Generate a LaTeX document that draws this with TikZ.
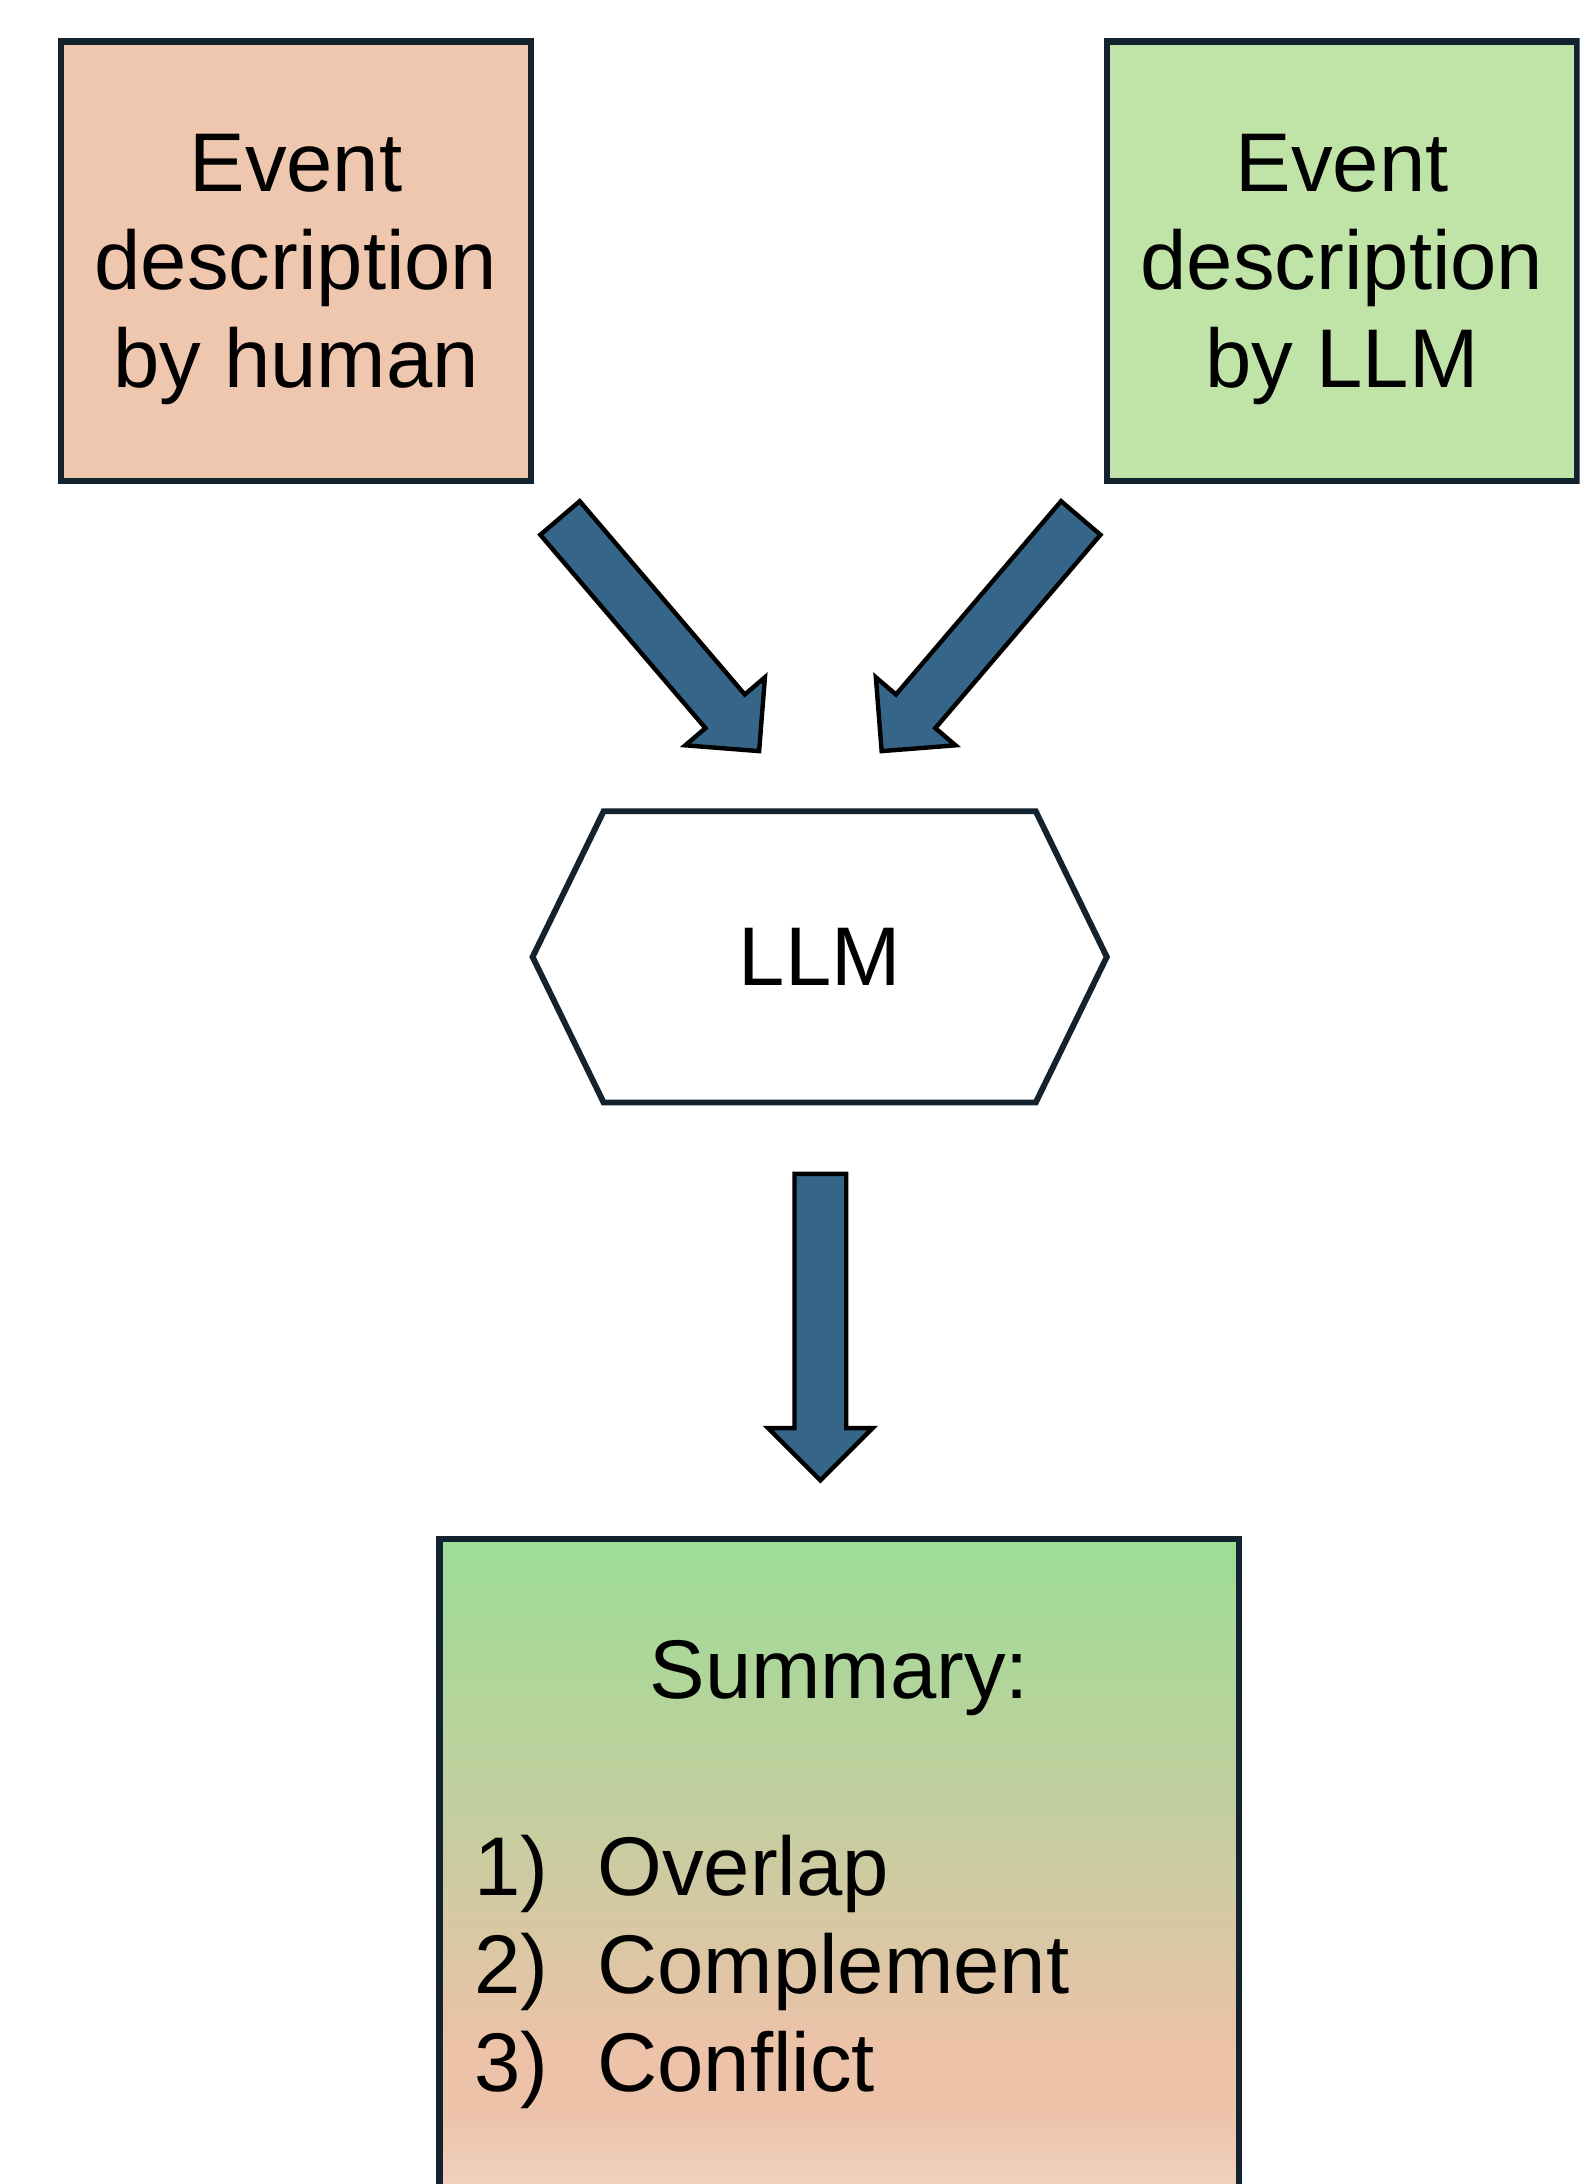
\documentclass[tikz,border=0pt]{standalone}
\usepackage{fontspec}
\setmainfont{Liberation Sans}
\usetikzlibrary{shapes.arrows,shapes.symbols}

\definecolor{peachbox}{HTML}{EFC6AE}
\definecolor{greenbox}{HTML}{C0E3A7}
\definecolor{boxline}{HTML}{13222F}
\definecolor{arrowblue}{HTML}{35668A}
\definecolor{sumgreen}{HTML}{9CDD96}
\definecolor{sumolive}{HTML}{C4CE9F}
\definecolor{sumpeach}{HTML}{ECC2A8}
\definecolor{sumpale}{HTML}{F0D2BE}

\pgfdeclareverticalshading{summaryshade}{100bp}{color(0bp)=(sumpale); color(25bp)=(sumpale); color(30bp)=(sumpale); color(36bp)=(sumpeach); color(40bp)=(sumpeach); color(56bp)=(sumolive); color(75bp)=(sumgreen); color(100bp)=(sumgreen)}

\begin{document}
\begin{tikzpicture}[x=0.01cm, y=-0.01cm, font=\fontsize{17}{20}\selectfont,
	descbox/.style={draw=boxline, line width=1.3pt, minimum width=3.375cm, minimum height=3.155cm, align=center},
	blockarrow/.style={single arrow, draw=black, line width=0.9pt, fill=arrowblue, inner xsep=0pt, inner ysep=0.17cm, single arrow head extend=0.19cm, minimum height=2.2cm}]
	\useasboundingbox (0,0) rectangle (1134,1568);
	\clip (0,0) rectangle (1134,1568);

	\node[descbox, fill=peachbox] (human) at (212.5,187.5) {\\[-0.17cm]Event\\description\\by human};
	\node[descbox, fill=greenbox] (bymodel) at (963.5,187.5) {\\[-0.17cm]Event\\description\\by LLM};

	\node[blockarrow, rotate=-49.5] (fromhuman) at (467.5,448.5) {};
	\node[blockarrow, rotate=-130.5] (frommodel) at (710.5,448.5) {};

	\node[signal, signal to=west and east, signal pointer angle=128, draw=boxline, line width=1.2pt, minimum width=4.12cm, minimum height=2.09cm] (llm) at (588.5,687) {LLM};

	\node[blockarrow, rotate=-90] (tosummary) at (589,943.5) {};

	\node[draw=boxline, line width=1.3pt, shading=summaryshade, minimum width=5.735cm, minimum height=5.2cm, anchor=north] (summary) at (602.5,1102.75) {};
	\node[anchor=base] (sumtitle) at (602.5,1219.5) {Summary:};
	\node[anchor=base west, inner sep=0pt] (sumlist) at (340,1361) {\begin{tabular}[t]{@{}l@{\hspace{0.35cm}}l@{}}
		1) & Overlap\\
		2) & Complement\\
		3) & Conflict
	\end{tabular}};
\end{tikzpicture}
\end{document}
